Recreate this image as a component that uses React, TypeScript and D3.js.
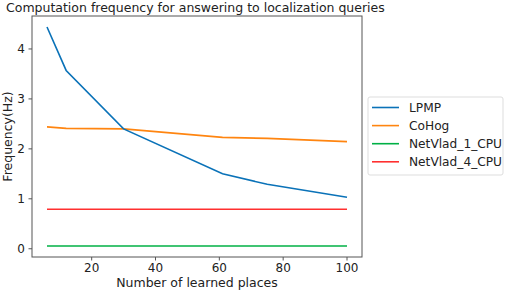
import React from "react";
import * as d3 from "d3";

const places = [6, 12, 30, 61, 75, 100];
const lpmp = [4.44, 3.57, 2.40, 1.50, 1.29, 1.03];
const cohog = [2.44, 2.41, 2.40, 2.23, 2.21, 2.145];
const netvlad1 = [0.055, 0.055, 0.055, 0.055, 0.055, 0.055];
const netvlad4 = [0.79, 0.79, 0.79, 0.79, 0.79, 0.79];
const seriesNames = ["LPMP", "CoHog", "NetVlad_1_CPU", "NetVlad_4_CPU"];
const seriesColors = ["#0a72b8", "#ff8510", "#00b045", "#ff3030"];
const xTicks = [20, 40, 60, 80, 100];
const yTicks = [0, 1, 2, 3, 4];

export default function App() {
  const W = 512, H = 291;
  const left = 32, right = 362, top = 16, bottom = 257;
  const x = d3.scaleLinear().domain([1.3, 104.7]).range([left, right]);
  const y = d3.scaleLinear().domain([-0.165, 4.66]).range([bottom, top]);
  const all = [lpmp, cohog, netvlad1, netvlad4];
  const line = d3
    .line<[number, number]>()
    .x((d) => x(d[0]))
    .y((d) => y(d[1]));
  const font = "DejaVu Sans, sans-serif";
  const axisColor = "#555";
  const order = [3, 2, 1, 0];
  return (
    <svg
      width={W}
      height={H}
      style={{ position: "absolute", left: 0, top: 0, background: "#fff" }}
      fontFamily={font}
    >
      <text x={6} y={12} fontSize={12.5} fill="#222">
        Computation frequency for answering to localization queries
      </text>
      {order.map((i) => (
        <path
          key={i}
          d={line(places.map((p, j) => [p, all[i][j]]))!}
          fill="none"
          stroke={seriesColors[i]}
          strokeWidth={1.6}
        />
      ))}
      <rect
        x={left}
        y={top}
        width={right - left}
        height={bottom - top}
        fill="none"
        stroke={axisColor}
        strokeWidth={1}
      />
      {xTicks.map((t) => (
        <g key={t}>
          <line x1={x(t)} x2={x(t)} y1={bottom} y2={bottom + 3.5} stroke={axisColor} />
          <text x={x(t)} y={272} fontSize={12} textAnchor="middle" fill="#222">
            {t}
          </text>
        </g>
      ))}
      {yTicks.map((t) => (
        <g key={t}>
          <line x1={left - 3.5} x2={left} y1={y(t)} y2={y(t)} stroke={axisColor} />
          <text x={25} y={y(t) + 4.2} fontSize={12} textAnchor="end" fill="#222">
            {t}
          </text>
        </g>
      ))}
      <text x={197} y={287} fontSize={12.5} textAnchor="middle" fill="#222">
        Number of learned places
      </text>
      <text
        transform={`translate(12,${(top + bottom) / 2}) rotate(-90)`}
        fontSize={12.5}
        textAnchor="middle"
        fill="#222"
      >
        Frequency(Hz)
      </text>
      <rect x={368} y={97} width={135} height={78} rx={2} fill="#fff" stroke="#ddd" />
      {seriesNames.map((n, i) => (
        <g key={n}>
          <line
            x1={372}
            x2={399}
            y1={107.5 + i * 18.1}
            y2={107.5 + i * 18.1}
            stroke={seriesColors[i]}
            strokeWidth={1.6}
          />
          <text x={409} y={111.8 + i * 18.1} fontSize={12.2} fill="#222">
            {n}
          </text>
        </g>
      ))}
    </svg>
  );
}
